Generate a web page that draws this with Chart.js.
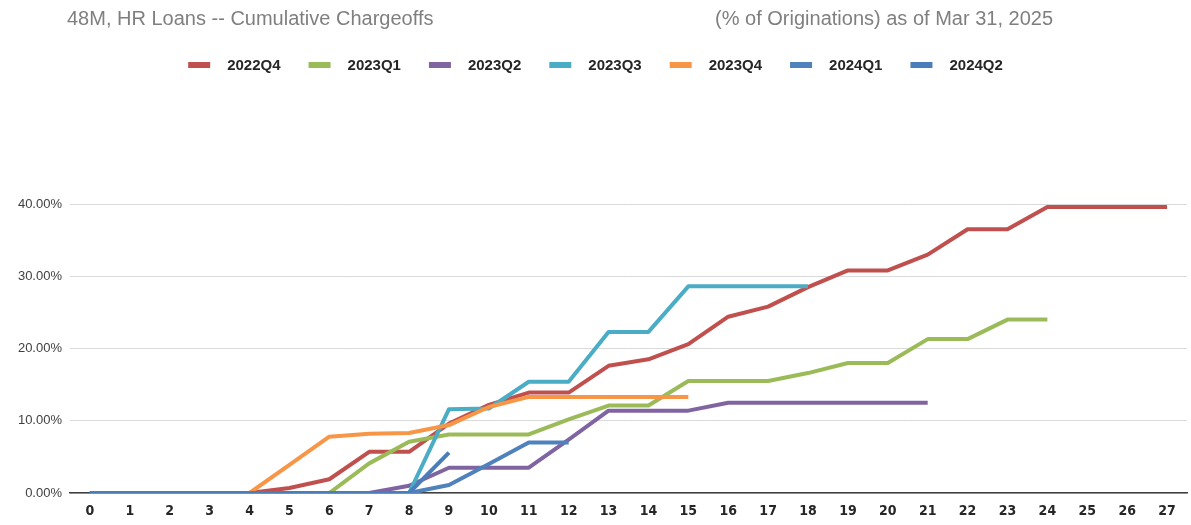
<!DOCTYPE html>
<html>
<head>
<meta charset="utf-8">
<script src="https://cdn.jsdelivr.net/npm/chart.js@4/dist/chart.umd.min.js"></script>
<style>
  html, body { margin: 0; padding: 0; background: #ffffff; }
  #wrap { width: 1191px; height: 525px; }
</style>
</head>
<body>
<div id="wrap"><canvas id="c" width="1191" height="525"></canvas></div>
<script>
// ---- data (cumulative chargeoffs, % of originations) ----
const titleLeft = '48M, HR Loans -- Cumulative Chargeoffs';
const titleRight = '(% of Originations) as of Mar 31, 2025';
const monthLabels = ['0','1','2','3','4','5','6','7','8','9','10','11','12','13','14','15','16','17','18','19','20','21','22','23','24','25','26','27'];
const seriesNames = ['2022Q4','2023Q1','2023Q2','2023Q3','2023Q4','2024Q1','2024Q2'];
const v2022Q4 = [0,0,0,0,0,0.7,1.9,5.7,5.7,9.6,12.2,13.9,13.9,17.6,18.5,20.6,24.4,25.8,28.5,30.8,30.8,33.0,36.5,36.5,39.6,39.6,39.6,39.6];
const v2023Q1 = [0,0,0,0,0,0,0,4.1,7.1,8.1,8.1,8.1,10.2,12.1,12.1,15.5,15.5,15.5,16.6,18.0,18.0,21.3,21.3,24.0,24.0];
const v2023Q2 = [0,0,0,0,0,0,0,0,1.0,3.5,3.5,3.5,7.4,11.4,11.4,11.4,12.5,12.5,12.5,12.5,12.5,12.5];
const v2023Q3 = [0,0,0,0,0,0,0,0,0,11.6,11.7,15.4,15.4,22.3,22.3,28.6,28.6,28.6,28.6];
const v2023Q4 = [0,0,0,0,0,3.9,7.8,8.2,8.3,9.4,11.9,13.3,13.3,13.3,13.3,13.3];
const v2024Q1 = [0,0,0,0,0,0,0,0,0,1.1,4.0,7.0,7.0];
const v2024Q2 = [0,0,0,0,0,0,0,0,0,5.6];
const yTicks = [0,10,20,30,40];

const seriesValues = [v2022Q4, v2023Q1, v2023Q2, v2023Q3, v2023Q4, v2024Q1, v2024Q2];
const seriesColors = ['#c0504d','#9bbb59','#8064a2','#4bacc6','#f79646','#4f81bd','#4a7ebb'];

const datasets = seriesNames.map((name, i) => ({
  label: name,
  data: seriesValues[i],
  borderColor: seriesColors[i],
  backgroundColor: seriesColors[i],
  borderWidth: 4,
  pointRadius: 0,
  pointHoverRadius: 0,
  tension: 0,
  borderJoinStyle: 'round',
  borderCapStyle: 'butt',
  fill: false,
  spanGaps: false,
  order: seriesNames.length - i   // later series drawn on top (as in Excel)
}));

const NARROW = "'Liberation Sans Narrow', 'DejaVu Sans Condensed', 'Liberation Sans', sans-serif";
const REG = "'Liberation Sans', Arial, sans-serif";

const headerPlugin = {
  id: 'header',
  afterDraw(chart) {
    const ctx = chart.ctx;
    ctx.save();
    // title
    ctx.fillStyle = '#7f7f7f';
    ctx.font = "20px " + REG;
    ctx.textBaseline = 'middle';
    ctx.textAlign = 'left';
    ctx.fillText(titleLeft, 67, 19);
    ctx.textAlign = 'right';
    ctx.fillText(titleRight, 1053, 19);
    // legend
    ctx.font = "bold 15px " + REG;
    ctx.textAlign = 'left';
    const markerW = 22, markerH = 6, markerGap = 17, itemGap = 28;
    const widths = chart.data.datasets.map(d => markerW + markerGap + ctx.measureText(d.label).width);
    const total = widths.reduce((a, b) => a + b, 0) + itemGap * (widths.length - 1);
    let x = 595.5 - total / 2;
    const y = 65;
    chart.data.datasets.forEach((d, i) => {
      ctx.fillStyle = d.borderColor;
      ctx.fillRect(x, y - markerH / 2, markerW, markerH);
      ctx.fillStyle = '#262626';
      ctx.fillText(d.label, x + markerW + markerGap, y + 1);
      x += widths[i] + itemGap;
    });
    ctx.restore();
  }
};

new Chart(document.getElementById('c'), {
  type: 'line',
  data: { labels: monthLabels, datasets },
  plugins: [headerPlugin],
  options: {
    responsive: false,
    animation: false,
    layout: { padding: { top: 204, right: 4, left: 0, bottom: 0 } },
    plugins: {
      legend: { display: false },
      title: { display: false },
      tooltip: { enabled: false }
    },
    scales: {
      x: {
        type: 'category',
        offset: true,
        grid: { display: false, drawTicks: false },
        border: { display: true, color: '#404040', width: 1.5 },
        ticks: {
          color: '#262626',
          font: { family: NARROW, size: 14, weight: 'bold' },
          padding: 10,
          autoSkip: false,
          maxRotation: 0
        },
        afterFit(scale) { scale.height = 32; }
      },
      y: {
        min: 0,
        max: 40,
        afterBuildTicks(scale) { scale.ticks = yTicks.map(v => ({ value: v })); },
        grid: { color: '#d9d9d9', lineWidth: 1, drawTicks: false },
        border: { display: false },
        ticks: {
          color: '#404040',
          font: { family: REG, size: 13 },
          padding: 8,
          callback: v => v.toFixed(2) + '%'
        },
        afterFit(scale) { scale.width = 70; }
      }
    }
  }
});
</script>
</body>
</html>
